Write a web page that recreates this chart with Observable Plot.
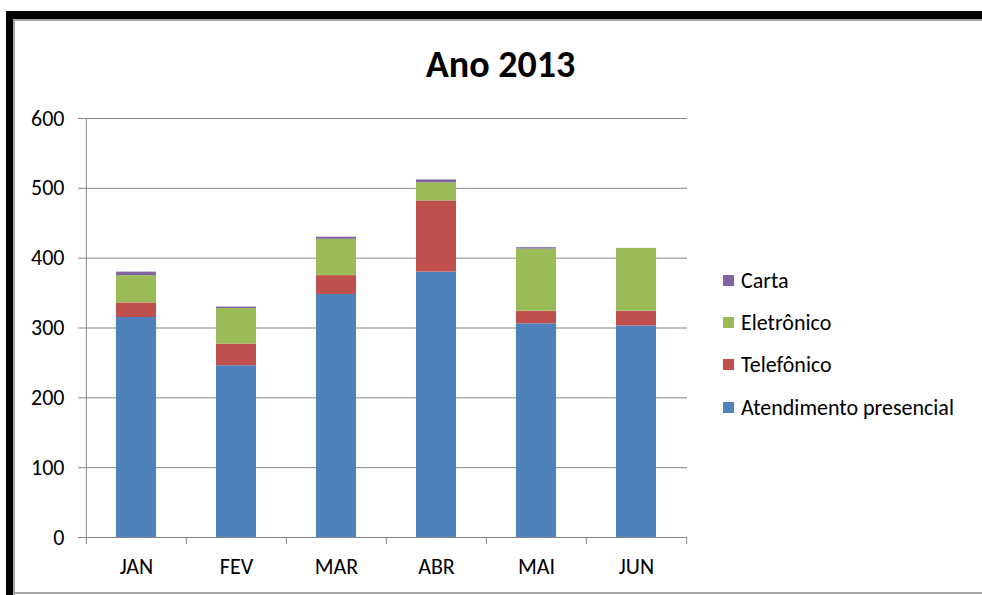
<!DOCTYPE html>
<html>
<head>
<meta charset="utf-8">
<script src="https://cdn.jsdelivr.net/npm/d3@7"></script>
<script src="https://cdn.jsdelivr.net/npm/@observablehq/plot@0.6"></script>
<style>
  html, body { margin: 0; padding: 0; background: #fff; }
  #wrap { position: relative; width: 982px; height: 595px; overflow: hidden; background: #fff; font-family: Carlito, Lato, "Open Sans", sans-serif; color: #000; }
  .blk { position: absolute; background: #000; }
  .gry { position: absolute; background: #a6a6a6; }
  #chart { position: absolute; left: 0; top: 0; }
  #title { position: absolute; left: 0; width: 1001px; top: 45px; text-align: center; font-size: 38px; line-height: 38px; font-weight: bold; font-family: Carlito, Lato, sans-serif; }
  #legend { position: absolute; left: 723px; top: 0; }
  .li { position: absolute; left: 0; white-space: nowrap; font-size: 22px; line-height: 20px; }
  .sw { position: absolute; left: 0; width: 11px; height: 11px; }
  .lt { position: absolute; left: 18px; top: -10px; }
</style>
</head>
<body>
<div id="wrap">
  <div class="blk" style="left:6px;top:11px;width:976px;height:8px"></div>
  <div class="blk" style="left:6px;top:11px;width:7px;height:584px"></div>
  <div class="gry" style="left:13px;top:19px;width:969px;height:2px"></div>
  <div class="gry" style="left:13px;top:19px;width:2px;height:576px"></div>
  <div class="gry" style="left:13px;top:592px;width:969px;height:2px"></div>
  <div id="chart"></div>
  <div id="title">Ano 2013</div>
  <div id="legend"></div>
</div>
<script>
const months = ["JAN", "FEV", "MAR", "ABR", "MAI", "JUN"];
const series = ["Atendimento presencial", "Telefônico", "Eletrônico", "Carta"];
const presencial = [315, 246, 348, 380, 306, 303];
const telefonico = [21, 31, 27, 102, 18, 21];
const eletronico = [39, 51, 52, 26, 89, 90];
const carta = [5, 2, 3, 4, 2, 0];
const colors = ["#4F81BD", "#C0504D", "#9BBB59", "#8064A2"];
const yTicks = [0, 100, 200, 300, 400, 500, 600];
const legendOrder = ["Carta", "Eletrônico", "Telefônico", "Atendimento presencial"];

const valuesBySeries = [presencial, telefonico, eletronico, carta];
const rows = months.flatMap((m, i) => series.map((s, j) => ({month: m, series: s, value: valuesBySeries[j][i]})));

const W = 982, H = 595;
const mL = 85, mR = 295, mT = 118, mB = 58;
const half = (W - mL - mR) / months.length / 2;
const gridColor = "#878787";

const chart = Plot.plot({
  width: W,
  height: H,
  marginLeft: mL,
  marginRight: mR,
  marginTop: mT,
  marginBottom: mB,
  style: {background: "transparent", fontFamily: "Carlito, Lato, sans-serif", color: "#000"},
  x: {domain: months, paddingInner: 0.6, paddingOuter: 0.3, label: null},
  y: {domain: [0, 600], label: null},
  color: {domain: series, range: colors},
  marks: [
    Plot.gridY({ticks: yTicks, stroke: gridColor, strokeOpacity: 1}),
    Plot.barY(rows, {x: "month", y: "value", fill: "series"}),
    Plot.ruleY([0], {stroke: gridColor}),
    Plot.ruleX([months[0]], {x: d => d, y1: 0, y2: 600, dx: -half, stroke: gridColor}),
    Plot.ruleX(months, {x: d => d, y1: 0, y2: -10, dx: -half, stroke: gridColor}),
    Plot.ruleX([months[months.length - 1]], {x: d => d, y1: 0, y2: -10, dx: half, stroke: gridColor}),
    Plot.axisY({ticks: yTicks, tickSize: 7, tickPadding: 14, fontSize: 22, stroke: gridColor, fill: "#000", label: null}),
    Plot.axisX({tickSize: 0, tickPadding: 21, fontSize: 22, fill: "#000", label: null})
  ]
});
document.getElementById("chart").appendChild(chart);

const legendY = [281, 323, 365, 408];
const legend = document.getElementById("legend");
legendOrder.forEach((s, k) => {
  const li = document.createElement("div");
  li.className = "li";
  li.style.top = legendY[k] + "px";
  const sw = document.createElement("div");
  sw.className = "sw";
  sw.style.top = "-6px";
  sw.style.background = colors[series.indexOf(s)];
  const t = document.createElement("div");
  t.className = "lt";
  t.textContent = s;
  li.appendChild(sw);
  li.appendChild(t);
  legend.appendChild(li);
});
</script>
</body>
</html>
